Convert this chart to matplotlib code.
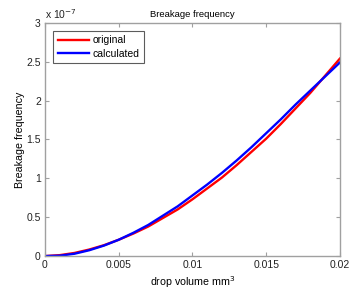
import matplotlib
matplotlib.use("Agg")
import matplotlib.pyplot as plt

plt.rcParams['font.family'] = ['Liberation Sans', 'DejaVu Sans']

# drop volume (mm^3)
volume = [0.000, 0.001, 0.002, 0.003, 0.004, 0.005, 0.006, 0.007, 0.008, 0.009,
          0.010, 0.011, 0.012, 0.013, 0.014, 0.015, 0.016, 0.017, 0.018, 0.019, 0.020]
# breakage frequency, in units of 1e-7
original = [0.0, 0.012, 0.040, 0.084, 0.140, 0.21, 0.29, 0.38, 0.49, 0.60,
            0.73, 0.87, 1.01, 1.17, 1.34, 1.51, 1.70, 1.90, 2.10, 2.32, 2.54]
calculated = [0.0, 0.005, 0.030, 0.075, 0.135, 0.21, 0.30, 0.40, 0.52, 0.64,
              0.78, 0.92, 1.07, 1.23, 1.40, 1.58, 1.76, 1.95, 2.13, 2.31, 2.49]

xticks = [0, 0.005, 0.01, 0.015, 0.02]
xticklabels = ['0', '0.005', '0.01', '0.015', '0.02']
yticks = [0, 0.5, 1, 1.5, 2, 2.5, 3]
yticklabels = ['0', '0.5', '1', '1.5', '2', '2.5', '3']

fig = plt.figure(figsize=(3.6, 2.9), dpi=100)
ax = fig.add_axes([0.125, 0.117, 0.819, 0.804])

ax.plot(volume, original, color='#ff0000', lw=1.7, label='original')
ax.plot(volume, calculated, color='#0000ff', lw=1.7, label='calculated')

ax.set_xlim(0, 0.02)
ax.set_ylim(0, 3)
ax.set_xticks(xticks)
ax.set_xticklabels(xticklabels)
ax.set_yticks(yticks)
ax.set_yticklabels(yticklabels)

grey = '#a0a0a0'
for s in ax.spines.values():
    s.set_color(grey)
    s.set_linewidth(1.0)
ax.tick_params(direction='in', length=3, width=0.8, color=grey, labelsize=7.5,
               labelcolor='#222222', top=True, right=True, pad=3)

ax.set_title('Breakage frequency', fontsize=6.8, pad=4)
ax.set_xlabel('drop volume mm$^3$', fontsize=7.7, labelpad=3)
ax.set_ylabel('Breakage frequency', fontsize=7.7, labelpad=1)
ax.text(0.0, 1.01, 'x 10$^{-7}$', transform=ax.transAxes, fontsize=7.5,
        ha='left', va='bottom', color='#222222')

leg = ax.legend(loc='upper left', fontsize=7.5, frameon=True, fancybox=False,
                handlelength=3.0, borderpad=0.4, labelspacing=0.3,
                handletextpad=0.4, borderaxespad=0.8)
leg.get_frame().set_edgecolor('#333333')
leg.get_frame().set_linewidth(0.8)

fig.savefig('out.png', dpi=100)
